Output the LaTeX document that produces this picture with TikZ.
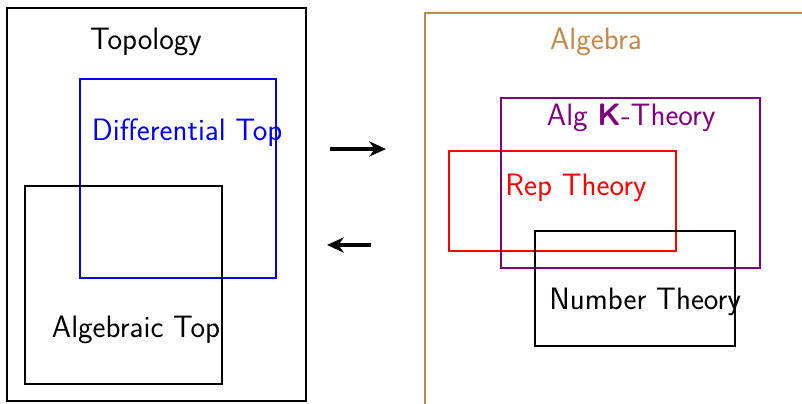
\documentclass[tikz,border=0pt]{standalone}
\usepackage{tikz}
\usetikzlibrary{arrows.meta}
\definecolor{algbrown}{RGB}{196,136,72}
\definecolor{kpurple}{RGB}{128,0,128}

\begin{document}
\begin{tikzpicture}[font=\sffamily\fontsize{22}{26}\selectfont,
    lbl/.style={inner sep=0pt, anchor=center}]
    \useasboundingbox (0, 0) rectangle (20.05, 10.1);

    % 左边: Topology
    \draw[line width=1.9pt] (0.175, 0.075) rectangle (7.65, 9.9);
    \node[lbl] (topo) at (3.65, 9.06) {Topology};

    \draw[blue, line width=1.6pt] (2.0, 3.15) rectangle (6.9, 8.125);
    \node[lbl, blue] (difftop) at (4.68, 6.78) {Differential Top};

    \draw[line width=0.9pt] (0.625, 0.5) rectangle (5.55, 5.45);
    \node[lbl] (algtop) at (3.4, 1.84) {Algebraic Top};

    % 中间两个箭头
    \coordinate (r1) at (8.25, 6.375);
    \coordinate (r2) at (9.65, 6.375);
    \coordinate (l1) at (9.275, 3.975);
    \coordinate (l2) at (8.175, 3.975);
    \draw[-{Stealth[length=4.2mm, width=3.8mm]}, line width=2.2pt] (r1) -- (r2);
    \draw[-{Stealth[length=4.2mm, width=3.8mm]}, line width=2.2pt] (l1) -- (l2);

    % 右边: Algebra (框超出画面)
    \draw[algbrown, line width=1.6pt] (10.625, -0.5) -- (10.625, 9.775) -- (20.5, 9.775);
    \node[lbl, algbrown] (alg) at (14.9, 9.04) {Algebra};

    \draw[red, line width=1.6pt] (11.225, 3.825) rectangle (16.9, 6.325);
    \node[lbl, red] (rep) at (14.4, 5.39) {Rep Theory};

    \draw[kpurple, line width=1.6pt] (12.525, 3.4) rectangle (19.0, 7.65);
    \node[lbl, kpurple] (kth) at (15.78, 7.14) {Alg \textbf{K}-Theory};

    \draw[line width=0.9pt] (13.375, 1.45) rectangle (18.375, 4.325);
    \node[lbl] (numth) at (16.13, 2.54) {Number Theory};
\end{tikzpicture}
\end{document}
